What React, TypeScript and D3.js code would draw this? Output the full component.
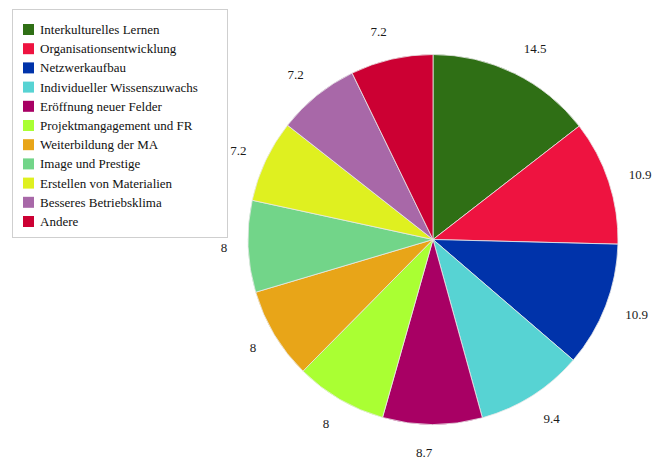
import React from "react";
import * as d3 from "d3";

const categories = [
  "Interkulturelles Lernen",
  "Organisationsentwicklung",
  "Netzwerkaufbau",
  "Individueller Wissenszuwachs",
  "Eröffnung neuer Felder",
  "Projektmangagement und FR",
  "Weiterbildung der MA",
  "Image und Prestige",
  "Erstellen von Materialien",
  "Besseres Betriebsklima",
  "Andere",
];
const values = [14.5, 10.9, 10.9, 9.4, 8.7, 8, 8, 8, 7.2, 7.2, 7.2];
const colors = [
  "#2f6f15",
  "#ee1340",
  "#0033aa",
  "#57d3d3",
  "#a80064",
  "#aaff33",
  "#e8a518",
  "#72d589",
  "#dff020",
  "#a868a8",
  "#cc0033",
];

export default function App() {
  const W = 655, H = 459;
  const cx = 433, cy = 239.5, r = 185, lr = 206;
  const pie = d3.pie<number>().sort(null).value((d) => d)(values);
  const arc = d3.arc<d3.PieArcDatum<number>>().innerRadius(0).outerRadius(r);
  const font = "Liberation Serif";
  return (
    <div>
      <style>{`body{margin:0}`}</style>
      <svg width={W} height={H} style={{ display: "block" }}>
        <g transform={`translate(${cx},${cy})`}>
          {pie.map((p, i) => (
            <path key={i} d={arc(p) || ""} fill={colors[i]} stroke="#e8e8e8" strokeWidth={0.8} />
          ))}
          {pie.map((p, i) => {
            const a = (p.startAngle + p.endAngle) / 2;
            const s = Math.sin(a), c = Math.cos(a);
            const x = s * lr;
            const y = -c * lr - c * Math.abs(c) * 7.5 + 4.5;
            return (
              <text key={i} x={x} y={y} textAnchor={s >= 0 ? "start" : "end"}
                style={{ fontFamily: font }} fontSize={13} fill="#1a1a1a">
                {values[i]}
              </text>
            );
          })}
        </g>
        <rect x={12.5} y={9.5} width={215} height={228} fill="none" stroke="#cfcfcf" strokeWidth={1} />
        {categories.map((c, i) => (
          <g key={i} transform={`translate(23,${24 + i * 19.2})`}>
            <rect x={0} y={0} width={11} height={11} fill={colors[i]} />
            <text x={17} y={10} style={{ fontFamily: font }} fontSize={13} fill="#111">{c}</text>
          </g>
        ))}
      </svg>
    </div>
  );
}
